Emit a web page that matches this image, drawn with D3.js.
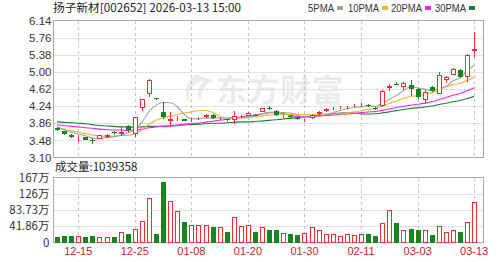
<!DOCTYPE html>
<html><head><meta charset="utf-8">
<script src="https://cdn.jsdelivr.net/npm/d3@7"></script>
<style>
html,body{margin:0;padding:0;background:#fff;}
svg{display:block;}
text{font-family:"Liberation Sans",Arial,sans-serif;}
.cjk{font-family:"Noto Sans CJK SC","Noto Sans",sans-serif;}
</style></head>
<body><div id="chart"></div>
<script>
const dates = ["12-10","12-11","12-12","12-15","12-16","12-17","12-18","12-19","12-22","12-23","12-24","12-25","12-26","12-29","12-30","12-31",
"01-05","01-06","01-07","01-08","01-09","01-12","01-13","01-14","01-15","01-16","01-19","01-20","01-21","01-22","01-23","01-26","01-27","01-28","01-29","01-30",
"02-02","02-03","02-04","02-05","02-06","02-09","02-10","02-11","02-12","02-13","02-24","02-25","02-26","02-27",
"03-02","03-03","03-04","03-05","03-06","03-09","03-10","03-11","03-12","03-13"];
const opens  = [3.76,3.68,3.61,3.54,3.55,3.49,3.52,3.55,3.66,3.62,3.79,3.63,4.20,4.51,4.41,4.10,3.92,3.96,3.95,3.93,3.95,3.99,4.05,3.95,3.95,3.94,4.00,4.03,4.05,4.11,4.20,4.14,4.02,4.01,3.98,3.93,3.97,4.07,4.13,4.18,4.20,4.21,4.23,4.26,4.26,4.19,4.24,4.64,4.74,4.66,4.71,4.62,4.37,4.66,4.52,4.81,4.94,5.05,4.89,5.46];
const highs  = [3.78,3.69,3.62,3.61,3.56,3.54,3.60,3.62,3.69,3.81,3.82,4.00,4.40,4.85,4.43,4.34,4.10,4.02,3.96,3.97,3.99,4.07,4.06,3.98,3.96,4.14,4.05,4.12,4.06,4.20,4.25,4.15,4.05,4.02,3.99,3.96,4.06,4.13,4.19,4.22,4.24,4.25,4.28,4.30,4.29,4.21,4.59,4.74,4.77,4.77,4.81,4.65,4.60,4.68,4.99,4.91,5.09,5.06,5.40,5.88];
const lows   = [3.68,3.60,3.53,3.44,3.48,3.39,3.50,3.54,3.61,3.58,3.66,3.56,4.14,4.44,4.37,3.95,3.77,3.92,3.90,3.89,3.94,3.98,3.96,3.93,3.92,3.85,3.98,4.02,4.01,4.10,4.15,4.02,3.95,3.97,3.94,3.88,3.96,4.05,4.11,4.15,4.17,4.18,4.21,4.23,4.21,4.15,4.22,4.58,4.70,4.59,4.46,4.40,4.29,4.55,4.50,4.75,4.92,4.86,4.77,5.33];
const closes = [3.70,3.62,3.55,3.55,3.49,3.46,3.59,3.61,3.64,3.67,3.71,3.99,4.39,4.83,4.39,4.00,3.96,3.98,3.92,3.95,3.97,4.05,3.97,3.96,3.94,4.02,4.03,4.08,4.03,4.19,4.18,4.04,4.04,3.99,3.96,3.95,4.04,4.10,4.18,4.19,4.20,4.22,4.25,4.28,4.24,4.17,4.58,4.68,4.72,4.75,4.63,4.44,4.55,4.58,4.92,4.89,5.07,4.88,5.37,5.50];
// volume in 万 (10k shares)
const volumes = [13,16.5,16.5,17,13,16,15,13,13,26,22,36,56,114,22,157,108,80,52,46,46,46,39,39,28,66,43,46,28,41,32,32,24,22,19,24,41,32,23,22,16,22,19,22,22,17,49,84,51,33,36,32,33,20,43,28,33,26,53,103.9358];
// moving-average values before enough closes exist
const ma5Lead  = [3.78,3.72,3.66,3.62];
const ma10Lead = [3.76,3.73,3.69,3.66,3.63,3.60,3.58,3.57,3.57];
const ma20Lead = [3.82,3.81,3.79,3.78,3.76,3.75,3.73,3.72,3.71,3.71,3.70,3.71,3.73,3.76,3.78,3.79,3.80,3.82,3.84];
const ma30Lead = [3.89,3.88,3.87,3.86,3.85,3.83,3.81,3.80,3.79,3.78,3.78,3.77,3.78,3.79,3.79,3.80,3.80,3.81,3.82,3.83,3.84,3.85,3.86,3.86,3.87,3.88,3.89,3.89,3.90];
const priceTicks = [6.14,5.76,5.38,5.00,4.62,4.24,3.86,3.48,3.10];
const volTicks = [0,41.86,83.73,125.59,167.45];
const volTickLabels = ["0","41.86万","83.73万","126万","167万"];
const dateTicks = ["12-15","12-25","01-08","01-20","01-30","02-11","03-03","03-13"];
const maNames = ["5PMA","10PMA","20PMA","30PMA"];
const maPeriods = [5,10,20,30];
const maLeads = [ma5Lead,ma10Lead,ma20Lead,ma30Lead];
const titleText = "扬子新材[002652] 2026-03-13 15:00";
const volTitle = "成交量:1039358";

const W=503,H=262;
const L=53.5,R=483.5, PT=20.5, PB=157.5, VT=177.5, VB=242.5;
const RED="#f02c2c", GREEN="#17841f";
const maColors=["#a3a3a3","#f2b233","#f023f0","#237a3a"];

const svg=d3.select("#chart").append("svg").attr("width",W).attr("height",H);

const x=d3.scaleBand().domain(dates).range([L, L+60*7.07]).paddingInner(0.3).paddingOuter(0.15);
const cx=d=>x(d)+x.bandwidth()/2;
const y=d3.scaleLinear().domain([3.10,6.14]).range([PB,PT]);
const yv=d3.scaleLinear().domain([0,167.45]).range([VB,VT]);

// watermark
svg.append("text").attr("class","cjk").attr("x",216).attr("y",101).attr("font-size",31).attr("font-weight","bold")
  .attr("fill","#ebebeb").attr("letter-spacing",1).text("东方财富");
svg.append("path").attr("d","M196,74 C186,82 182,94 190,103 C186,93 192,85 204,80 C197,88 196,96 201,101 C199,92 206,84 214,80 C206,78 200,76 196,74 Z")
  .attr("fill","#ebebeb");

// grids
const grid=svg.append("g").attr("shape-rendering","crispEdges");
grid.selectAll(".hp").data(priceTicks.slice(1,-1)).join("line")
  .attr("x1",L).attr("x2",R).attr("y1",d=>Math.round(y(d))+0.5).attr("y2",d=>Math.round(y(d))+0.5).attr("stroke","#e2e2e2");
grid.selectAll(".hv").data(volTicks.slice(1,-1)).join("line")
  .attr("x1",L).attr("x2",R).attr("y1",d=>Math.round(yv(d))+0.5).attr("y2",d=>Math.round(yv(d))+0.5).attr("stroke","#e2e2e2");
[[PT,PB],[VT,VB]].forEach(([t,b])=>{
  grid.selectAll(null).data(dateTicks).join("line")
    .attr("x1",d=>Math.round(cx(d))+0.5).attr("x2",d=>Math.round(cx(d))+0.5).attr("y1",t).attr("y2",b)
    .attr("stroke","#c4c4c4").attr("stroke-dasharray","3,3");
});
grid.append("rect").attr("x",L).attr("y",PT).attr("width",R-L).attr("height",PB-PT).attr("fill","none").attr("stroke","#a8a8a8");
grid.append("rect").attr("x",L).attr("y",VT).attr("width",R-L).attr("height",VB-VT).attr("fill","none").attr("stroke","#a8a8a8");

// MA lines
const mas=maPeriods.map((n,k)=>dates.map((d,i)=> i<n-1 ? maLeads[k][i] : d3.mean(closes.slice(i-n+1,i+1))));
const line=d3.line().x((v,i)=>cx(dates[i])).y(v=>y(v)).curve(d3.curveMonotoneX);
svg.append("g").selectAll("path").data(mas.slice().reverse()).join("path")
  .attr("d",line).attr("fill","none").attr("stroke",(d,i)=>maColors[3-i]).attr("stroke-width",1.1);

// candles
const bw=5;
const cg=svg.append("g").attr("shape-rendering","crispEdges");
dates.forEach((d,i)=>{
  const up=closes[i]>=opens[i];
  const col=up?RED:GREEN;
  const xc=Math.round(cx(d))+0.5;
  cg.append("line").attr("x1",xc).attr("x2",xc).attr("y1",y(highs[i])).attr("y2",y(lows[i])).attr("stroke",col);
  const top=Math.round(y(Math.max(opens[i],closes[i])));
  const bot=Math.round(y(Math.min(opens[i],closes[i])));
  const h=Math.max(1,bot-top);
  if(up){
    cg.append("rect").attr("x",xc-2.5+0.0).attr("y",top+0.5).attr("width",bw-1).attr("height",Math.max(0,h-1)).attr("fill","#fff").attr("stroke",col);
  } else {
    cg.append("rect").attr("x",xc-2.5).attr("y",top).attr("width",bw).attr("height",Math.max(1,h)).attr("fill",col);
  }
});

// volume bars
const vg=svg.append("g").attr("shape-rendering","crispEdges");
dates.forEach((d,i)=>{
  const up=closes[i]>=opens[i];
  const col=up?RED:GREEN;
  const xc=Math.round(cx(d))+0.5;
  const t=Math.round(yv(volumes[i]));
  if(up){
    vg.append("rect").attr("x",xc-2.5).attr("y",t+0.5).attr("width",bw-1).attr("height",VB-0.5-t-0.5).attr("fill","#fff").attr("stroke",col);
  } else {
    vg.append("rect").attr("x",xc-2.5).attr("y",t).attr("width",bw).attr("height",VB-t).attr("fill",col);
  }
});

// axes
const ya=svg.append("g").attr("transform",`translate(${L-2},0)`)
  .call(d3.axisLeft(y).tickValues(priceTicks).tickFormat(d3.format(".2f")).tickSize(0).tickPadding(0));
ya.select(".domain").remove();
ya.selectAll("text").attr("font-size",11.5).attr("fill","#333").attr("font-family","Liberation Sans, Arial, sans-serif");
const va=svg.append("g").attr("transform",`translate(${L-4},0)`)
  .call(d3.axisLeft(yv).tickValues(volTicks).tickFormat((d,i)=>volTickLabels[i]).tickSize(0).tickPadding(0));
va.select(".domain").remove();
va.selectAll("text").attr("font-size",11.5).attr("fill","#333").attr("class","cjk").attr("font-family",null);
const xa=svg.append("g").attr("transform",`translate(0,${VB+4})`)
  .call(d3.axisBottom(x).tickValues(dateTicks).tickSize(0).tickPadding(0));
xa.select(".domain").remove();
xa.selectAll("text").attr("font-size",11).attr("fill","#d42020").attr("dy","0.75em");

// title & legend
svg.append("text").attr("class","cjk").attr("x",53).attr("y",12).attr("font-size",11.5).attr("fill","#222")
  .attr("textLength",188).attr("lengthAdjust","spacingAndGlyphs").text(titleText);
svg.append("text").attr("class","cjk").attr("x",55).attr("y",171).attr("font-size",11.5).attr("fill","#222").text(volTitle);
const legX=[308,348,391,435], legW=[26,31,31,31];
const lg=svg.append("g");
maNames.forEach((n,k)=>{
  lg.append("text").attr("x",legX[k]).attr("y",12).attr("font-size",10).attr("fill","#333")
    .attr("textLength",legW[k]).attr("lengthAdjust","spacingAndGlyphs").text(n);
  lg.append("rect").attr("x",legX[k]+legW[k]+3).attr("y",6).attr("width",6).attr("height",4).attr("fill",maColors[k]);
});
</script></body></html>
